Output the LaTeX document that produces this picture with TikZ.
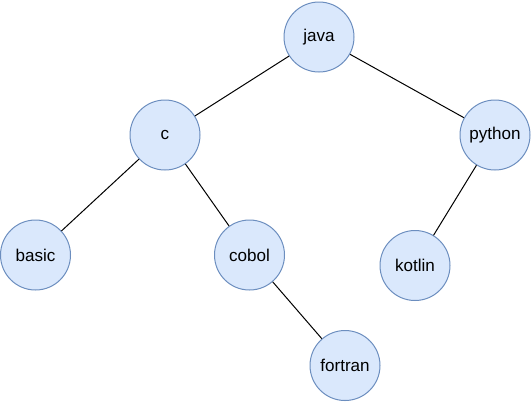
\documentclass[tikz,border=0pt]{standalone}
\usepackage{fontspec}
\setmainfont{Liberation Sans}
\usepackage{tikz}

\definecolor{nodefill}{HTML}{DAE8FC}
\definecolor{nodeline}{HTML}{6C8EBF}

\begin{document}
\begin{tikzpicture}[x=0.75pt,y=-0.75pt,
        lang/.style={circle,draw=nodeline,fill=nodefill,line width=0.75pt,
            minimum size=52.5pt,inner sep=0pt,font=\fontsize{12.8}{15}\selectfont},
        edge/.style={line width=0.75pt}]
    \useasboundingbox (0,0) rectangle (531,401);
    
    % Root
    \node[lang] (java) at (319,37) {java};
    
    % Second level
    \node[lang] (c) at (165,135) {c};
    \node[lang] (python) at (495,135) {python};
    
    % Third level
    \node[lang] (basic) at (35.5,255) {basic};
    \node[lang] (cobol) at (249.5,255) {cobol};
    \node[lang] (kotlin) at (415,265.5) {kotlin};
    
    % Fourth level
    \node[lang] (fortran) at (345,365.5) {fortran};
    
    % Edges
    \draw[edge] (java) -- (c);
    \draw[edge] (java) -- (python);
    \draw[edge] (c) -- (basic);
    \draw[edge] (c) -- (cobol);
    \draw[edge] (cobol) -- (fortran);
    \draw[edge] (python) -- (kotlin);
    
    \end{tikzpicture}
\end{document}
